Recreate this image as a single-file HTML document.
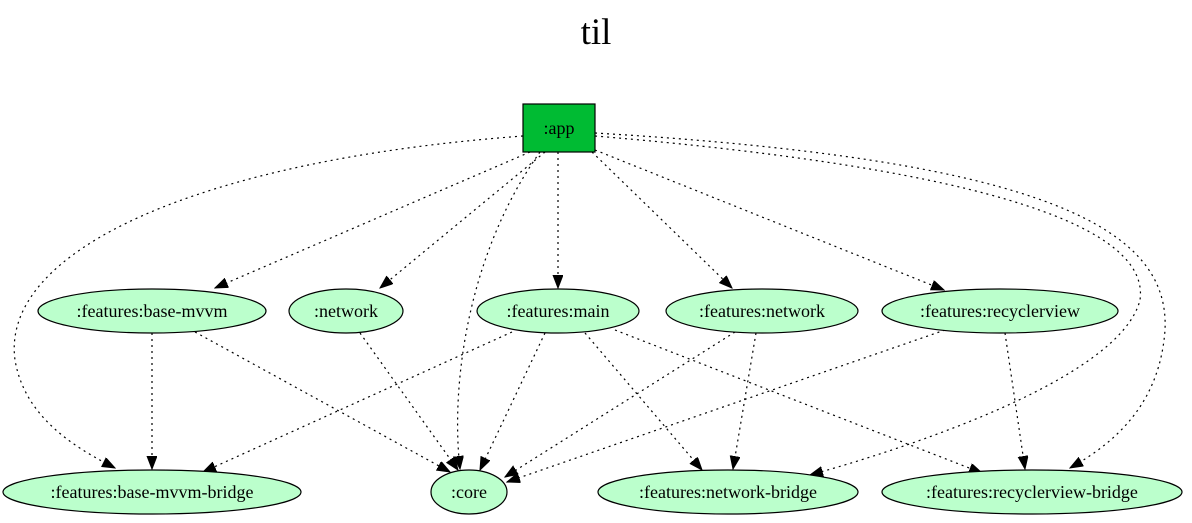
<!DOCTYPE html>
<html><head><meta charset="utf-8"><style>
html,body{margin:0;padding:0;background:#fff;}
svg{display:block;}
text{font-family:"Liberation Serif",serif;}
</style></head><body>
<svg width="1192" height="523" viewBox="0 0 1192 523" xmlns="http://www.w3.org/2000/svg">
<defs>
<marker id="a" markerUnits="userSpaceOnUse" markerWidth="14" markerHeight="12" refX="13" refY="5" orient="auto">
<path d="M0,0 L13,5 L0,10 Z" fill="#000" stroke="#000"/>
</marker>
</defs>
<text x="596" y="44" font-size="37" text-anchor="middle">til</text>
<g fill="none" stroke="#000" stroke-width="1.2" stroke-dasharray="2,4" marker-end="url(#a)">
<path d="M523,136 C200,160 0,250 15,360 C25,420 80,450 115,468"/>
<path d="M530,152 L215,288"/>
<path d="M545,152 L380,288"/>
<path d="M540,152 C470,250 450,380 460,469"/>
<path d="M558,152 L558,288"/>
<path d="M592,152 L732,288"/>
<path d="M595,150 L944,290"/>
<path d="M595,136 C1000,170 1150,230 1140,300 C1120,380 900,450 810,475"/>
<path d="M595,133 C1050,160 1170,230 1165,330 C1160,400 1120,440 1070,468"/>
<path d="M152,333 L152,469"/>
<path d="M195,332 L450,472"/>
<path d="M360,333 L458,470"/>
<path d="M512,332 L203,472"/>
<path d="M545,333 L480,470"/>
<path d="M585,333 L702,470"/>
<path d="M615,330 L982,473"/>
<path d="M735,332 L505,477"/>
<path d="M756,333 L733,469"/>
<path d="M945,330 L507,482"/>
<path d="M1005,333 L1025,469"/>
</g>
<rect x="523" y="104" width="72" height="48" fill="#00bb33" stroke="#000" stroke-width="1.2"/>
<text x="559" y="134" font-size="18" text-anchor="middle">:app</text>
<g fill="#bbffcc" stroke="#000" stroke-width="1.2">
<ellipse cx="152" cy="311" rx="114" ry="22"/>
<ellipse cx="346" cy="311" rx="57" ry="22"/>
<ellipse cx="558" cy="311" rx="81" ry="22"/>
<ellipse cx="762" cy="311" rx="96" ry="22"/>
<ellipse cx="1000" cy="311" rx="118" ry="22"/>
<ellipse cx="152" cy="492" rx="149" ry="22"/>
<ellipse cx="469" cy="492" rx="38" ry="22"/>
<ellipse cx="728" cy="492" rx="130" ry="22"/>
<ellipse cx="1032" cy="492" rx="150" ry="22"/>
</g>
<g font-size="18" text-anchor="middle">
<text x="152" y="317">:features:base-mvvm</text>
<text x="346" y="317">:network</text>
<text x="558" y="317">:features:main</text>
<text x="762" y="317">:features:network</text>
<text x="1000" y="317">:features:recyclerview</text>
<text x="152" y="498">:features:base-mvvm-bridge</text>
<text x="469" y="498">:core</text>
<text x="728" y="498">:features:network-bridge</text>
<text x="1032" y="498">:features:recyclerview-bridge</text>
</g>
</svg>
</body></html>
